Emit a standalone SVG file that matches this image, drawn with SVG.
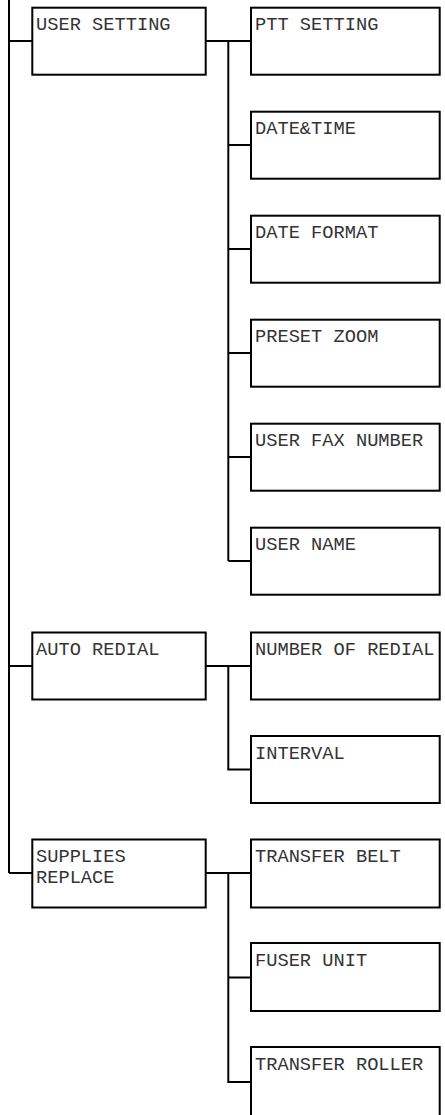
<svg xmlns="http://www.w3.org/2000/svg" width="445" height="1115" viewBox="0 0 445 1115">
<style>
.box{fill:#fff;stroke:#000;stroke-width:2}
.lbl{font-family:"Courier New","Nimbus Mono PS","FreeMono",Courier,"Liberation Mono",monospace;font-size:18.7px;fill:#333}
.conn{stroke:#000;stroke-width:2;fill:none}
</style>
<rect width="445" height="1115" fill="#fff"/>
<g id="connectors">
<path class="conn" d="M9 0V873"/>
<path class="conn" d="M9 41H32.3M9 666H32.3M9 873H32.3"/>
<path class="conn" d="M205.7 41H251M228.3 41V561M228.3 145H251M228.3 249H251M228.3 353H251M228.3 457H251M228.3 561H251"/>
<path class="conn" d="M205.7 666H251M228.3 666V769.5H251"/>
<path class="conn" d="M205.7 873H251M228.3 873V1082H251M228.3 977.5H251"/>
</g>
<g id="user-setting"><rect class="box" x="32.3" y="7.7" width="173.4" height="67"/><text class="lbl" x="36" y="30.2">USER SETTING</text></g>
<g id="ptt-setting"><rect class="box" x="251" y="7.7" width="188.7" height="67"/><text class="lbl" x="255" y="30.2">PTT SETTING</text></g>
<g id="date-time"><rect class="box" x="251" y="111.7" width="188.7" height="67"/><text class="lbl" x="255" y="134.2">DATE&amp;TIME</text></g>
<g id="date-format"><rect class="box" x="251" y="215.7" width="188.7" height="67"/><text class="lbl" x="255" y="238.2">DATE FORMAT</text></g>
<g id="preset-zoom"><rect class="box" x="251" y="319.7" width="188.7" height="67"/><text class="lbl" x="255" y="342.2">PRESET ZOOM</text></g>
<g id="user-fax-number"><rect class="box" x="251" y="423.7" width="188.7" height="67"/><text class="lbl" x="255" y="446.2">USER FAX NUMBER</text></g>
<g id="user-name"><rect class="box" x="251" y="527.7" width="188.7" height="67"/><text class="lbl" x="255" y="550.2">USER NAME</text></g>
<g id="auto-redial"><rect class="box" x="32.3" y="632.5" width="173.4" height="67"/><text class="lbl" x="36" y="655">AUTO REDIAL</text></g>
<g id="number-of-redial"><rect class="box" x="251" y="632.5" width="188.7" height="67"/><text class="lbl" x="255" y="655">NUMBER OF REDIAL</text></g>
<g id="interval"><rect class="box" x="251" y="736" width="188.7" height="67"/><text class="lbl" x="255" y="758.5">INTERVAL</text></g>
<g id="supplies-replace"><rect class="box" x="32.3" y="839.5" width="173.4" height="68"/><text class="lbl" x="36" y="862.3">SUPPLIES</text><text class="lbl" x="36" y="883.3">REPLACE</text></g>
<g id="transfer-belt"><rect class="box" x="251" y="839.5" width="188.7" height="68"/><text class="lbl" x="255" y="862.3">TRANSFER BELT</text></g>
<g id="fuser-unit"><rect class="box" x="251" y="943" width="188.7" height="68"/><text class="lbl" x="255" y="965.8">FUSER UNIT</text></g>
<g id="transfer-roller"><rect class="box" x="251" y="1047" width="188.7" height="80"/><text class="lbl" x="255" y="1069.8">TRANSFER ROLLER</text></g>
</svg>
